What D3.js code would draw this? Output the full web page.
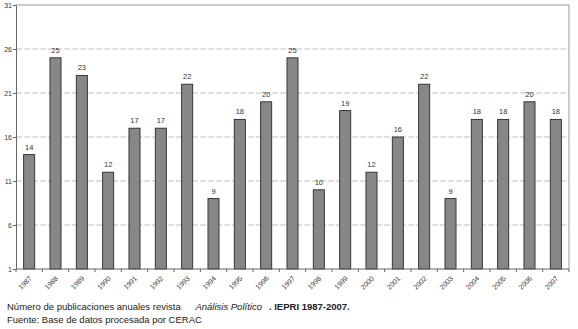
<!DOCTYPE html>
<html>
<head>
<meta charset="utf-8">
<script src="https://cdn.jsdelivr.net/npm/d3@7"></script>
<style>
  body { margin: 0; background: #fff; }
  text { font-family: "Liberation Sans", Arial, sans-serif; }
</style>
</head>
<body>
<svg id="chart"></svg>
<script>
// Data
const years = ['1987', '1988', '1989', '1990', '1991', '1992', '1993', '1994', '1995', '1996', '1997',
  '1998', '1999', '2000', '2001', '2002', '2003', '2004', '2005', '2006', '2007'];
const publications = [14, 25, 23, 12, 17, 17, 22, 9, 18, 20, 25, 10, 19, 12, 16, 22, 9, 18, 18, 20, 18];
const yTicks = [1, 6, 11, 16, 21, 26, 31];

const width = 578, height = 329;
const margin = { top: 5, right: 9, bottom: 60, left: 16 };
const innerW = width - margin.left - margin.right;
const innerH = height - margin.top - margin.bottom;

const svg = d3.select('#chart')
  .attr('width', width)
  .attr('height', height);

const chart = svg.append('g')
  .attr('transform', `translate(${margin.left},${margin.top})`);

const xScale = d3.scaleBand()
  .domain(years)
  .range([0, innerW])
  .paddingInner(0.58)
  .paddingOuter(0.29);

const yScale = d3.scaleLinear()
  .domain([1, 31])
  .range([innerH, 0]);

// Gridlines
chart.selectAll('.grid')
  .data(yTicks.slice(1, -1))
  .join('line')
  .attr('class', 'grid')
  .attr('x1', 0)
  .attr('x2', innerW)
  .attr('y1', d => yScale(d))
  .attr('y2', d => yScale(d))
  .attr('stroke', '#b0b0b0')
  .attr('stroke-width', 0.8)
  .attr('stroke-dasharray', '6,2');

// Plot border (top and right)
chart.append('path')
  .attr('d', `M0,${yScale(31)}H${innerW}V${innerH}`)
  .attr('fill', 'none')
  .attr('stroke', '#999')
  .attr('stroke-width', 1);

// Bars
chart.selectAll('.bar')
  .data(publications)
  .join('rect')
  .attr('class', 'bar')
  .attr('x', (d, i) => xScale(years[i]))
  .attr('width', xScale.bandwidth())
  .attr('y', d => yScale(d))
  .attr('height', d => yScale(1) - yScale(d))
  .attr('fill', '#878787')
  .attr('stroke', '#2a2a2a')
  .attr('stroke-width', 0.9);

// Value labels
chart.selectAll('.val')
  .data(publications)
  .join('text')
  .attr('class', 'val')
  .attr('x', (d, i) => xScale(years[i]) + xScale.bandwidth() / 2)
  .attr('y', d => yScale(d) - 5)
  .attr('text-anchor', 'middle')
  .attr('font-size', 7.5)
  .attr('fill', '#333')
  .text(d => d);

// Axes
const yAxis = d3.axisLeft(yScale)
  .tickValues(yTicks)
  .tickSize(3)
  .tickSizeOuter(0)
  .tickFormat(d3.format('d'));

const yAxisG = chart.append('g').call(yAxis);
yAxisG.select('.domain').attr('stroke', '#666');
yAxisG.selectAll('.tick line').attr('stroke', '#666');
yAxisG.selectAll('.tick text')
  .attr('font-size', 7)
  .attr('fill', '#333')
  .attr('x', -4);

// category ticks between bars
const xAxisG = chart.append('g')
  .attr('transform', `translate(0,${innerH})`);
xAxisG.append('line')
  .attr('x1', 0).attr('x2', innerW)
  .attr('stroke', '#666');
xAxisG.selectAll('.xtick')
  .data(d3.range(years.length + 1))
  .join('line')
  .attr('class', 'xtick')
  .attr('x1', i => i * xScale.step())
  .attr('x2', i => i * xScale.step())
  .attr('y1', 0)
  .attr('y2', 3)
  .attr('stroke', '#666');
xAxisG.selectAll('.xlabel')
  .data(years)
  .join('text')
  .attr('class', 'xlabel')
  .attr('transform', d => `translate(${xScale(d) + xScale.bandwidth() / 2 + 3},${10}) rotate(-45)`)
  .attr('text-anchor', 'end')
  .attr('font-size', 7)
  .attr('fill', '#333')
  .text(d => d);

// Footnotes
const note = svg.append('text')
  .attr('x', 7)
  .attr('y', 310)
  .attr('font-size', 9.5)
  .attr('fill', '#222');
note.append('tspan').text('Número de publicaciones anuales revista ');
note.append('tspan').attr('dx', 12).attr('font-style', 'italic').text('Análisis Político');
note.append('tspan').attr('dx', 7).attr('font-weight', 'bold').text('. ');
note.append('tspan').attr('font-weight', 'bold').text('IEPRI 1987-2007.');

svg.append('text')
  .attr('x', 7)
  .attr('y', 323)
  .attr('font-size', 9.5)
  .attr('fill', '#222')
  .text('Fuente: Base de datos procesada por CERAC');
</script>
</body>
</html>
